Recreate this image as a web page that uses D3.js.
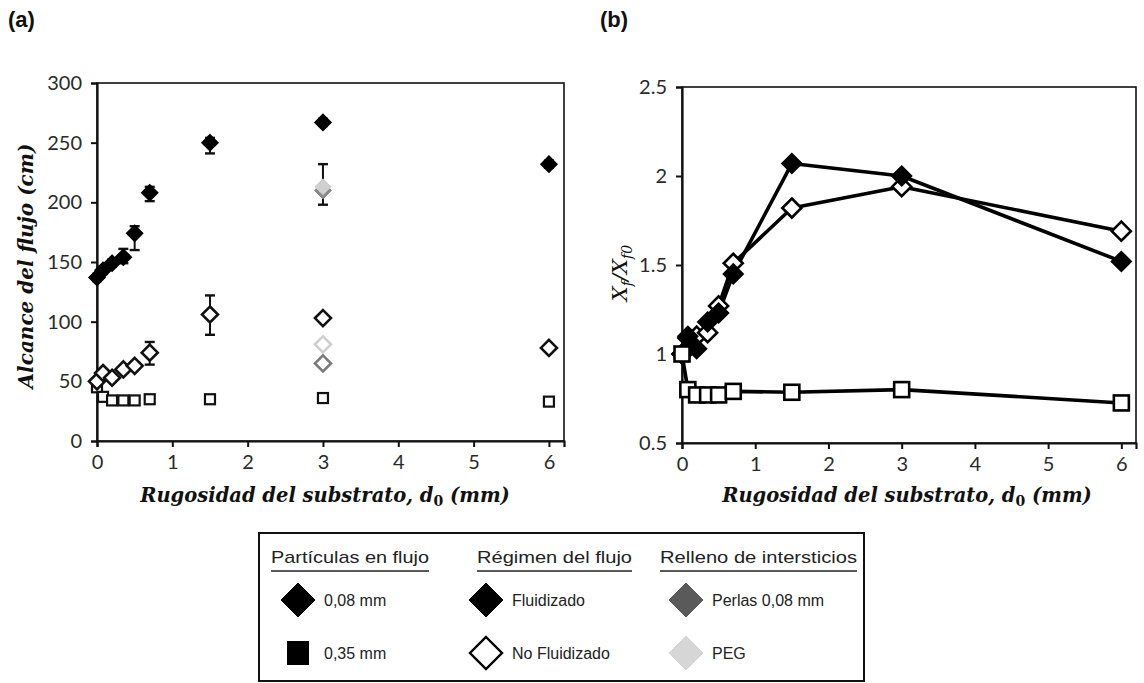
<!DOCTYPE html>
<html>
<head>
<meta charset="utf-8">
<script src="https://cdn.jsdelivr.net/npm/d3@7"></script>
<style>
  html, body { margin: 0; padding: 0; background: #fff; }
  svg { display: block; }
</style>
</head>
<body>
<svg id="chart" width="1144" height="683"></svg>
<script>
// Substrate roughness (mm)
const d0 = [0, 0.08, 0.2, 0.35, 0.5, 0.7, 1.5, 3, 6];

// (a) Run-out distance (cm)
const alcanceFluid = [137, 143, 149, 154, 174, 208, 250, 267, 232];
const fluidErrUp = [3, 3, 3, 7, 6, 5, 4, 3, 3];
const fluidErrDown = [3, 3, 3, 5, 14, 7, 9, 3, 3];
const alcanceNoFluid = [50, 57, 53, 60, 63, 74, 106, 103, 78];
const noFluidErrUp = [2, 2, 2, 2, 2, 9, 16, 3, 2];
const noFluidErrDown = [2, 2, 2, 2, 2, 10, 17, 3, 2];
const alcance035 = [45, 37, 34, 34, 34, 35, 35, 36, 33];

// (a) Interstice filling, at d0 = 3 mm
const rellenoD0 = 3;
const perlasFluid = 210;
const pegFluid = 213;
const pegFluidErrUp = 19;
const pegFluidErrDown = 15;
const perlasNoFluid = 65;
const pegNoFluid = 81;

// (b) Normalised run-out Xf / Xf0
const ratioFluid = [1.0, 1.10, 1.03, 1.18, 1.23, 1.45, 2.07, 2.00, 1.52];
const ratioNoFluid = [1.0, 1.09, 1.10, 1.12, 1.27, 1.51, 1.82, 1.94, 1.69];
const ratio035 = [1.0, 0.80, 0.77, 0.77, 0.77, 0.79, 0.785, 0.80, 0.725];

// Tick values
const xTicks = [0, 1, 2, 3, 4, 5, 6];
const yTicksA = [0, 50, 100, 150, 200, 250, 300];
const yTicksB = [0.5, 1, 1.5, 2, 2.5];

const svg = d3.select("#chart");
const tickFont = "Lato, 'Open Sans', sans-serif";
const titleFont = "'DejaVu Serif', serif";

function diamond(cx, cy, r) {
  return `M${cx},${cy - r}L${cx + r},${cy}L${cx},${cy + r}L${cx - r},${cy}Z`;
}

function panel(g, x, y, yTicks, yFmt) {
  const [x0, x1] = x.range();
  const [yb, yt] = y.range();
  // frame
  g.append("rect").attr("x", x0).attr("y", yt).attr("width", x1 - x0).attr("height", yb - yt)
    .attr("fill", "none").attr("stroke", "#111").attr("stroke-width", 1.6);
  const ax = g.append("g").attr("transform", `translate(0,${yb})`)
    .call(d3.axisBottom(x).tickValues(xTicks).tickSize(6).tickPadding(8).tickFormat(d3.format("d")));
  const ay = g.append("g").attr("transform", `translate(${x0},0)`)
    .call(d3.axisLeft(y).tickValues(yTicks).tickSize(6).tickPadding(9).tickFormat(yFmt));
  [ax, ay].forEach(a => {
    a.select(".domain").attr("stroke", "#111").attr("stroke-width", 2.2);
    a.selectAll(".tick line").attr("stroke", "#111").attr("stroke-width", 2);
    a.selectAll(".tick text").attr("font-family", tickFont).attr("font-size", 20).attr("fill", "#2a2a2a");
  });
}

// ---------- Panel (a) ----------
const xa = d3.scaleLinear().domain([0, 6.2]).range([97, 564]);
const ya = d3.scaleLinear().domain([0, 300]).range([441, 83]);
const ga = svg.append("g");
panel(ga, xa, ya, yTicksA, d3.format("d"));

function errBars(g, xs, vals, up, down, x, y) {
  vals.forEach((v, i) => {
    const cx = x(xs[i]);
    const t = y(v + up[i]), b = y(v - down[i]);
    g.append("line").attr("x1", cx).attr("x2", cx).attr("y1", t).attr("y2", b)
      .attr("stroke", "#111").attr("stroke-width", 2);
    [t, b].forEach(yy => g.append("line").attr("x1", cx - 5).attr("x2", cx + 5)
      .attr("y1", yy).attr("y2", yy).attr("stroke", "#111").attr("stroke-width", 2.4));
  });
}

errBars(ga, d0, alcanceFluid, fluidErrUp, fluidErrDown, xa, ya);
errBars(ga, d0, alcanceNoFluid, noFluidErrUp, noFluidErrDown, xa, ya);
errBars(ga, [rellenoD0], [pegFluid], [pegFluidErrUp], [pegFluidErrDown], xa, ya);

// 0.35 mm particles (open squares)
ga.selectAll(".sqA").data(d0).enter().append("rect")
  .attr("x", (d, i) => xa(d) - 5).attr("y", (d, i) => ya(alcance035[i]) - 5)
  .attr("width", 10).attr("height", 10)
  .attr("fill", "#fff").attr("stroke", "#111").attr("stroke-width", 2.2);

// non-fluidised (open diamonds)
ga.selectAll(".nfA").data(d0).enter().append("path")
  .attr("d", (d, i) => diamond(xa(d), ya(alcanceNoFluid[i]), 8))
  .attr("fill", "#fff").attr("stroke", "#111").attr("stroke-width", 2.6);

// fluidised (filled diamonds)
ga.selectAll(".fA").data(d0).enter().append("path")
  .attr("d", (d, i) => diamond(xa(d), ya(alcanceFluid[i]), 8))
  .attr("fill", "#000").attr("stroke", "#000").attr("stroke-width", 1.5);

// interstice filling at d0 = 3 mm
ga.append("path").attr("d", diamond(xa(rellenoD0), ya(perlasNoFluid), 8))
  .attr("fill", "#fff").attr("stroke", "#7a7a7a").attr("stroke-width", 2.6);
ga.append("path").attr("d", diamond(xa(rellenoD0), ya(pegNoFluid), 8))
  .attr("fill", "#fff").attr("stroke", "#cfcfcf").attr("stroke-width", 2.6);
ga.append("path").attr("d", diamond(xa(rellenoD0), ya(perlasFluid), 8.5))
  .attr("fill", "#8a8a8a").attr("stroke", "#8a8a8a").attr("stroke-width", 1);
ga.append("path").attr("d", diamond(xa(rellenoD0), ya(pegFluid), 8))
  .attr("fill", "#d0d0d0").attr("stroke", "#c8c8c8").attr("stroke-width", 1);

// ---------- Panel (b) ----------
const xb = d3.scaleLinear().domain([0, 6.2]).range([682, 1136]);
const yb = d3.scaleLinear().domain([0.5, 2.5]).range([443, 87]);
const gb = svg.append("g");
panel(gb, xb, yb, yTicksB, d => d3.format("")(d));

const line = (vals) => d3.line().x((d, i) => xb(d)).y((d, i) => yb(vals[i]))(d0);
[ratioNoFluid, ratioFluid, ratio035].forEach(vals => {
  gb.append("path").attr("d", line(vals)).attr("fill", "none")
    .attr("stroke", "#000").attr("stroke-width", 3.6).attr("stroke-linejoin", "round");
});

gb.selectAll(".nfB").data(d0).enter().append("path")
  .attr("d", (d, i) => diamond(xb(d), yb(ratioNoFluid[i]), 9.5))
  .attr("fill", "#fff").attr("stroke", "#000").attr("stroke-width", 2.6);
gb.selectAll(".fB").data(d0).enter().append("path")
  .attr("d", (d, i) => diamond(xb(d), yb(ratioFluid[i]), 10))
  .attr("fill", "#000").attr("stroke", "#000").attr("stroke-width", 1.5);
gb.selectAll(".sqB").data(d0).enter().append("rect")
  .attr("x", d => xb(d) - 7.5).attr("y", (d, i) => yb(ratio035[i]) - 7.5)
  .attr("width", 15).attr("height", 15)
  .attr("fill", "#fff").attr("stroke", "#000").attr("stroke-width", 2.6);

// ---------- Axis titles ----------
function xTitle(cx) {
  const t = svg.append("text").attr("x", cx).attr("y", 502).attr("text-anchor", "middle")
    .attr("font-family", titleFont).attr("font-size", 19.5).attr("font-weight", "bold")
    .attr("font-style", "italic").attr("fill", "#111");
  t.append("tspan").text("Rugosidad del substrato, d");
  t.append("tspan").attr("font-style", "normal").attr("font-size", 14).attr("dy", 4).text("0");
  t.append("tspan").attr("dy", -4).text(" (mm)");
}
xTitle(325);
xTitle(907);

svg.append("text")
  .attr("transform", "translate(33,266) rotate(-90)")
  .attr("text-anchor", "middle").attr("font-family", titleFont).attr("font-size", 20)
  .attr("font-weight", "bold").attr("font-style", "italic").attr("fill", "#111")
  .text("Alcance del flujo (cm)");

const yt = svg.append("text")
  .attr("transform", "translate(627,273) rotate(-90)")
  .attr("text-anchor", "middle").attr("font-family", titleFont).attr("font-size", 21)
  .attr("font-style", "italic").attr("fill", "#111");
yt.append("tspan").text("X");
yt.append("tspan").attr("font-size", 14).attr("dy", 5).text("f");
yt.append("tspan").attr("dy", -5).text("/X");
yt.append("tspan").attr("font-size", 14).attr("dy", 5).text("f0");

// panel labels
[["(a)", 8], ["(b)", 600]].forEach(([s, x]) => {
  svg.append("text").attr("x", x).attr("y", 27).attr("font-family", "'Liberation Sans', Arial, sans-serif")
    .attr("font-weight", "bold").attr("font-size", 22).attr("fill", "#111").text(s);
});

// ---------- Legend ----------
const lg = svg.append("g");
lg.append("rect").attr("x", 259).attr("y", 533).attr("width", 605).attr("height", 148)
  .attr("fill", "#fff").attr("stroke", "#111").attr("stroke-width", 2);

const legendHeaders = ["Partículas en flujo", "Régimen del flujo", "Relleno de intersticios"];
const headerX = [271, 477, 660];
const headerW = [158, 155, 197];
const legendFont = "'Liberation Sans', Arial, sans-serif";
legendHeaders.forEach((h, i) => {
  lg.append("text").attr("x", headerX[i]).attr("y", 563).attr("font-family", legendFont)
    .attr("font-size", 17).attr("fill", "#222").attr("textLength", headerW[i])
    .attr("lengthAdjust", "spacingAndGlyphs").text(h);
  lg.append("line").attr("x1", headerX[i]).attr("x2", headerX[i] + headerW[i])
    .attr("y1", 571).attr("y2", 571).attr("stroke", "#222").attr("stroke-width", 1.5);
});

const legendItems = [
  { label: "0,08 mm", x: 298, y: 600, shape: "diamond", fill: "#000", stroke: "#000" },
  { label: "0,35 mm", x: 298, y: 653, shape: "square", fill: "#000", stroke: "#000" },
  { label: "Fluidizado", x: 486, y: 600, shape: "diamond", fill: "#000", stroke: "#000" },
  { label: "No Fluidizado", x: 486, y: 653, shape: "diamond", fill: "#fff", stroke: "#000" },
  { label: "Perlas 0,08 mm", x: 686, y: 600, shape: "diamond", fill: "#5a5a5a", stroke: "#5a5a5a" },
  { label: "PEG", x: 686, y: 653, shape: "diamond", fill: "#d6d6d6", stroke: "#d6d6d6" }
];
legendItems.forEach(it => {
  if (it.shape === "diamond") {
    const open = it.fill === "#fff";
    lg.append("path").attr("d", diamond(it.x, it.y, open ? 16 : 17))
      .attr("fill", it.fill).attr("stroke", it.stroke).attr("stroke-width", open ? 2.4 : 1);
  } else {
    lg.append("rect").attr("x", it.x - 11).attr("y", it.y - 12).attr("width", 22).attr("height", 24)
      .attr("fill", it.fill);
  }
  lg.append("text").attr("x", it.x + 26).attr("y", it.y + 6).attr("font-family", legendFont)
    .attr("font-size", 16).attr("fill", "#222").text(it.label);
});
</script>
</body>
</html>
